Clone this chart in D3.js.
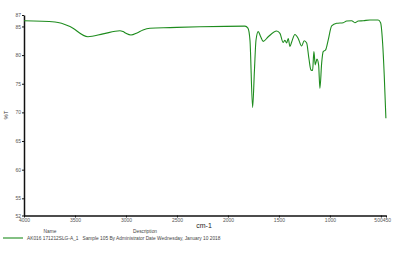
<!DOCTYPE html>
<html>
<head>
<meta charset="utf-8">
<script src="https://cdn.jsdelivr.net/npm/d3@7"></script>
<style>
  body { margin: 0; background: #fff; }
  svg text { font-family: "Liberation Sans", Arial, sans-serif; }
</style>
</head>
<body>
<div class="graph"></div>
<script>
// Tamaño del gráfico
const width = 404;
const height = 256;
const margin = { left: 24, right: 18, top: 15, bottom: 40.5 };

// Datos del espectro (número de onda, %T)
const wavenumbers = [4000, 3696, 3549, 3373, 3225, 3059, 3029, 3000, 2951, 2892, 2833, 2765, 2569, 2275, 1833,
  1804, 1784, 1758, 1740, 1725, 1703, 1681, 1654, 1605, 1522, 1490, 1458, 1441, 1425, 1409, 1392, 1375,
  1343, 1311, 1278, 1252, 1228, 1206, 1186, 1170, 1157, 1144, 1127, 1111, 1098, 1081, 1066, 1042, 1017,
  983, 934, 869, 836, 787, 755, 722, 673, 608, 527, 503, 483, 468, 451];
const transmittance = [86.0, 85.78, 85.0, 83.2, 83.7, 84.26, 84.1, 83.8, 83.5, 83.86, 84.4, 84.7, 84.8, 84.94, 85.05,
  84.7, 82.6, 70.85, 77.4, 82.6, 84.1, 83.3, 82.4, 83.2, 84.2, 83.8, 82.2, 82.6, 82.1, 82.9, 81.5, 82.3,
  83.6, 82.9, 81.6, 82.5, 82.1, 79.4, 77.4, 77.3, 80.6, 78.3, 79.3, 78.3, 74.2, 78.6, 80.6, 80.9, 82.6,
  85.1, 85.55, 85.66, 85.95, 86.0, 85.66, 85.95, 86.0, 86.13, 86.13, 85.66, 82.06, 76.8, 68.97];

// Marcas de los ejes
const xTicks = [4000, 3500, 3000, 2500, 2000, 1500, 1000, 500, 450];
const yTicks = [87, 85, 80, 75, 70, 65, 60, 55, 52];

const legendName = "AK016 171212SLG-A_1";
const legendDesc = "Sample 105 By Administrator Date Wednesday, January 10 2018";

const svg = d3.select(".graph")
  .append("svg")
  .attr("width", width)
  .attr("height", height);

const xScale = d3.scaleLinear().domain([4000, 450]).range([margin.left, width - margin.right]);
const yScale = d3.scaleLinear().domain([52, 87]).range([height - margin.bottom, margin.top]);

// Eje X
const xAxis = svg.append("g")
  .attr("transform", `translate(0, ${height - margin.bottom})`)
  .call(d3.axisBottom(xScale).tickValues(xTicks).tickSize(2).tickSizeOuter(0).tickPadding(1).tickFormat(d3.format("d")));

// Eje Y
const yAxis = svg.append("g")
  .attr("transform", `translate(${margin.left}, 0)`)
  .call(d3.axisLeft(yScale).tickValues(yTicks).tickSize(2).tickSizeOuter(0).tickPadding(1));

[xAxis, yAxis].forEach(ax => {
  ax.select(".domain").attr("stroke", "#111").attr("stroke-width", 1.5);
  ax.selectAll(".tick line").attr("stroke", "#111");
  ax.selectAll(".tick text").attr("fill", "#555").style("font-size", "5px");
});

// Las etiquetas 500 y 450 quedan pegadas ("500450")
xAxis.selectAll(".tick text")
  .filter(d => d === 500).attr("text-anchor", "end").attr("dx", "1.3");
xAxis.selectAll(".tick text")
  .filter(d => d === 450).attr("text-anchor", "start").attr("dx", "-3.8");

// Títulos de los ejes
svg.append("text")
  .attr("x", 204)
  .attr("y", 228)
  .attr("text-anchor", "middle")
  .style("font-size", "7px")
  .attr("fill", "#222")
  .text("cm-1");

svg.append("text")
  .attr("transform", "rotate(-90)")
  .attr("x", -115)
  .attr("y", 8)
  .attr("text-anchor", "middle")
  .style("font-size", "6px")
  .attr("fill", "#333")
  .text("%T");

// Línea del espectro
const line = d3.line()
  .x((d, i) => xScale(wavenumbers[i]))
  .y(d => yScale(d))
  .curve(d3.curveMonotoneX);

svg.append("path")
  .datum(transmittance)
  .attr("fill", "none")
  .attr("stroke", "#1e8c1e")
  .attr("stroke-width", 1.1)
  .attr("d", line);

// Leyenda
svg.append("text").attr("x", 50).attr("y", 233).attr("text-anchor", "middle")
  .style("font-size", "4.8px").attr("fill", "#444").text("Name");
svg.append("text").attr("x", 145).attr("y", 233).attr("text-anchor", "middle")
  .style("font-size", "4.8px").attr("fill", "#444").text("Description");
svg.append("line").attr("x1", 3).attr("x2", 23).attr("y1", 238).attr("y2", 238)
  .attr("stroke", "#1e8c1e").attr("stroke-width", 1.1);
svg.append("text").attr("x", 27).attr("y", 240)
  .style("font-size", "4.8px").attr("fill", "#444")
  .text(legendName + "   " + legendDesc)
  .attr("xml:space", "preserve");
</script>
</body>
</html>
